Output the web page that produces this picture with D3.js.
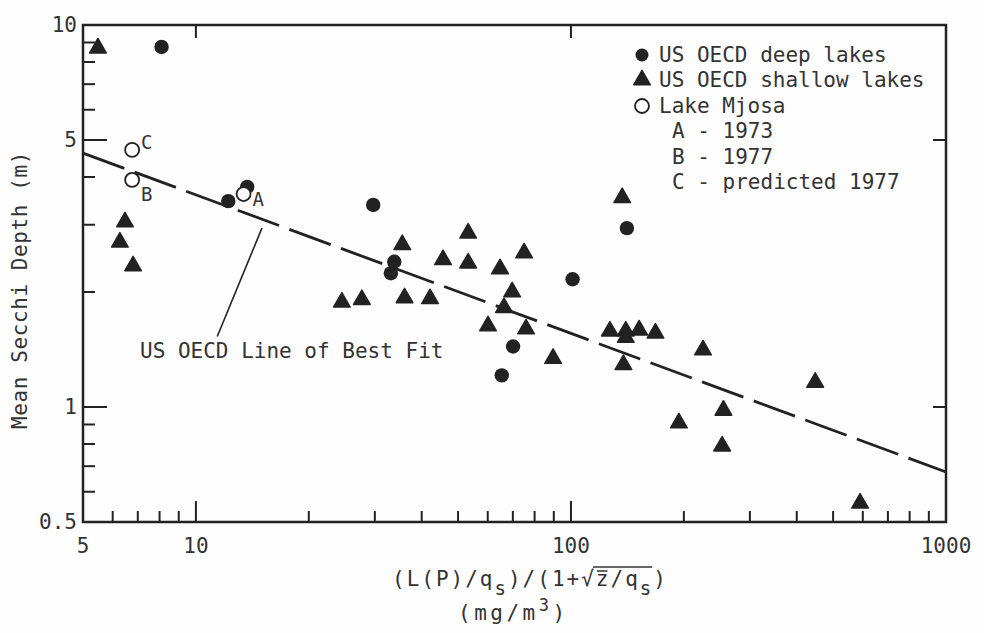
<!DOCTYPE html>
<html>
<head>
<meta charset="utf-8">
<script src="https://cdn.jsdelivr.net/npm/d3@7"></script>
<style>
  body { margin: 0; background: #fff; }
  svg { display: block; }
  text { font-family: "DejaVu Sans Mono", monospace; fill: #333; }
</style>
</head>
<body>
<div id="root"></div>
<script>
// US OECD deep lakes (filled circles)
const deepX = [8.1, 12.2, 13.7, 29.7, 33.8, 33.1, 141, 101, 70.1, 65.4];
const deepY = [8.76, 3.46, 3.77, 3.38, 2.40, 2.24, 2.94, 2.16, 1.44, 1.21];

// US OECD shallow lakes (filled triangles)
const shallowX = [5.48, 6.47, 6.27, 6.80, 24.5, 27.7, 35.5, 36.0, 42.1, 45.6, 53.2, 53.2,
  64.7, 75, 69.7, 66.3, 60.1, 75.9, 89.6, 137, 127, 140, 140, 152, 168, 138, 225, 448,
  194, 255, 253, 590];
const shallowY = [8.7, 3.05, 2.70, 2.34, 1.88, 1.91, 2.66, 1.93, 1.92, 2.43, 2.85, 2.38,
  2.30, 2.53, 2.00, 1.82, 1.63, 1.60, 1.34, 3.53, 1.58, 1.58, 1.52, 1.59, 1.56, 1.29, 1.41, 1.16,
  0.908, 0.98, 0.79, 0.56];

// Lake Mjosa (open circles)
const mjosaLabel = ["A", "B", "C"];
const mjosaX = [13.4, 6.76, 6.76];
const mjosaY = [3.61, 3.93, 4.71];

// line of best fit end points
const fitX = [5, 1000];
const fitY = [4.62, 0.676];

// leader line for the annotation (data coords)
const leaderX = [15.0, 11.4];
const leaderY = [2.94, 1.53];

const xTickLabels = [5, 10, 100, 1000];
const yTickLabels = [0.5, 1, 5, 10];
const xMinor = [6, 7, 8, 9, 20, 30, 40, 50, 60, 70, 80, 90, 200, 300, 400, 500, 600, 700, 800, 900];
const yMinor = [0.6, 0.7, 0.8, 0.9, 2, 3, 4, 6, 7, 8, 9];
const xMajor = [10, 100];
const yMajor = [1, 5];

const ink = "#222";

const svg = d3.select("#root")
    .append("svg")
    .attr("width", 984)
    .attr("height", 633);

svg.append("rect").attr("width", 984).attr("height", 633).attr("fill", "#fefefe");

const x = d3.scaleLog().domain([5, 1000]).range([83, 946]);
const y = d3.scaleLog().domain([0.5, 10]).range([522, 25]);

// frame
svg.append("rect")
    .attr("x", x(5)).attr("y", y(10))
    .attr("width", x(1000) - x(5)).attr("height", y(0.5) - y(10))
    .attr("fill", "none").attr("stroke", ink).attr("stroke-width", 2.5);

const ticks = svg.append("g").attr("stroke", ink).attr("stroke-width", 2);

// bottom ticks (inward)
ticks.selectAll(".xmin").data(xMinor).join("line")
    .attr("x1", d => x(d)).attr("x2", d => x(d))
    .attr("y1", y(0.5)).attr("y2", y(0.5) - 11);
ticks.selectAll(".xmaj").data(xMajor).join("line")
    .attr("x1", d => x(d)).attr("x2", d => x(d))
    .attr("y1", y(0.5)).attr("y2", y(0.5) - 21);
// top ticks
ticks.selectAll(".xtop").data(xMajor).join("line")
    .attr("x1", d => x(d)).attr("x2", d => x(d))
    .attr("y1", y(10)).attr("y2", y(10) + 13);

// left ticks
ticks.selectAll(".ymin").data(yMinor).join("line")
    .attr("x1", x(5)).attr("x2", x(5) + 12)
    .attr("y1", d => y(d)).attr("y2", d => y(d));
ticks.selectAll(".ymaj").data(yMajor).join("line")
    .attr("x1", x(5)).attr("x2", x(5) + 24)
    .attr("y1", d => y(d)).attr("y2", d => y(d));
// right ticks
ticks.selectAll(".yright").data(yMajor).join("line")
    .attr("x1", x(1000)).attr("x2", x(1000) - 13)
    .attr("y1", d => y(d)).attr("y2", d => y(d));

// tick labels
svg.selectAll(".xl").data(xTickLabels).join("text")
    .attr("x", d => x(d)).attr("y", 553)
    .attr("text-anchor", "middle")
    .attr("font-size", 21)
    .text(d => d);
svg.selectAll(".yl").data(yTickLabels).join("text")
    .attr("x", 77).attr("y", d => y(d) + 7)
    .attr("text-anchor", "end")
    .attr("font-size", 21)
    .text(d => d);

// axis titles
svg.append("text")
    .attr("transform", "translate(27,290) rotate(-90)")
    .attr("text-anchor", "middle")
    .attr("font-size", 21)
    .attr("letter-spacing", 0.6)
    .text("Mean Secchi Depth (m)");

const xt = svg.append("text")
    .attr("x", 392).attr("y", 586)
    .attr("font-size", 21)
    .attr("letter-spacing", 2);
xt.append("tspan").text("(L(P)/q");
xt.append("tspan").attr("dy", 9).attr("font-size", 19).text("s");
xt.append("tspan").attr("dy", -9).text(")/(1+");
xt.append("tspan").text("\u221A");
xt.append("tspan").text("z/q");
xt.append("tspan").attr("dy", 9).attr("font-size", 19).text("s");
xt.append("tspan").attr("dy", -9).text(")");

// radical overline over z/q_s and bar over z
{
  const node = xt.node();
  const full = node.textContent;
  const zi = full.indexOf("z");
  const zStart = node.getStartPositionOfChar(zi).x;
  const zEnd = node.getEndPositionOfChar(zi).x;
  const sEnd = node.getEndPositionOfChar(full.length - 2).x;
  const radEnd = node.getEndPositionOfChar(zi - 1).x;
  svg.append("line")
      .attr("x1", radEnd - 3).attr("x2", sEnd - 1)
      .attr("y1", 567).attr("y2", 567)
      .attr("stroke", "#333").attr("stroke-width", 1.5);
  svg.append("line")
      .attr("x1", zStart + 1).attr("x2", zEnd - 3)
      .attr("y1", 571).attr("y2", 571)
      .attr("stroke", "#333").attr("stroke-width", 1.5);
}

const ut = svg.append("text")
    .attr("x", 458).attr("y", 620)
    .attr("font-size", 21)
    .attr("letter-spacing", 3.5);
ut.append("tspan").text("(mg/m");
ut.append("tspan").attr("dy", -9).attr("font-size", 17).text("3");
ut.append("tspan").attr("dy", 9).text(")");

// best fit line
const line = d3.line().x(d => x(d[0])).y(d => y(d[1]));
svg.append("path")
    .datum(fitX.map((v, i) => [v, fitY[i]]))
    .attr("d", line)
    .attr("fill", "none")
    .attr("stroke", ink)
    .attr("stroke-width", 2.8)
    .attr("stroke-dasharray", "44,11");

// annotation
svg.append("path")
    .datum(leaderX.map((v, i) => [v, leaderY[i]]))
    .attr("d", line)
    .attr("stroke", ink).attr("stroke-width", 1.6);
svg.append("text")
    .attr("x", 140).attr("y", 358)
    .attr("font-size", 21)
    .text("US OECD Line of Best Fit");

// markers
const tri = d3.symbol().type(d3.symbolTriangle).size(120);

svg.append("g").selectAll("path")
    .data(shallowX.map((v, i) => [v, shallowY[i]]))
    .join("path")
    .attr("d", tri)
    .attr("transform", d => `translate(${x(d[0])},${y(d[1])})`)
    .attr("fill", ink).attr("stroke", ink)
    .attr("stroke-width", 1.5).attr("stroke-linejoin", "round");

svg.append("g").selectAll("circle")
    .data(deepX.map((v, i) => [v, deepY[i]]))
    .join("circle")
    .attr("cx", d => x(d[0])).attr("cy", d => y(d[1]))
    .attr("r", 7.2)
    .attr("fill", ink);

svg.append("g").selectAll("circle")
    .data(mjosaX.map((v, i) => [v, mjosaY[i]]))
    .join("circle")
    .attr("cx", d => x(d[0])).attr("cy", d => y(d[1]))
    .attr("r", 7)
    .attr("fill", "#fefefe").attr("stroke", ink).attr("stroke-width", 1.8);

svg.append("g").selectAll("text")
    .data(mjosaLabel)
    .join("text")
    .attr("x", (d, i) => x(mjosaX[i]) + 9)
    .attr("y", (d, i) => y(mjosaY[i]) + (d === "C" ? -1 : 21) - (d === "A" ? 9 : 0))
    .attr("font-size", 19)
    .text(d => d);

// legend
const legend = svg.append("g").attr("transform", "translate(642,0)");
const legendRows = [
  { y: 55, mark: "dot", label: "US OECD deep lakes" },
  { y: 80, mark: "tri", label: "US OECD shallow lakes" },
  { y: 106, mark: "ring", label: "Lake Mjosa" },
  { y: 131, mark: null, label: "A - 1973" },
  { y: 157, mark: null, label: "B - 1977" },
  { y: 182, mark: null, label: "C - predicted 1977" }
];
for (const r of legendRows) {
  if (r.mark === "dot") {
    legend.append("circle").attr("cx", 0).attr("cy", r.y).attr("r", 6.5).attr("fill", ink);
  } else if (r.mark === "tri") {
    legend.append("path").attr("d", tri).attr("transform", `translate(0,${r.y})`)
        .attr("fill", ink).attr("stroke", ink).attr("stroke-width", 1.5).attr("stroke-linejoin", "round");
  } else if (r.mark === "ring") {
    legend.append("circle").attr("cx", 0).attr("cy", r.y).attr("r", 7)
        .attr("fill", "none").attr("stroke", ink).attr("stroke-width", 1.8);
  }
  legend.append("text")
      .attr("x", r.mark ? 17 : 30)
      .attr("y", r.y + 7)
      .attr("font-size", 21)
      .text(r.label);
}
</script>
</body>
</html>
